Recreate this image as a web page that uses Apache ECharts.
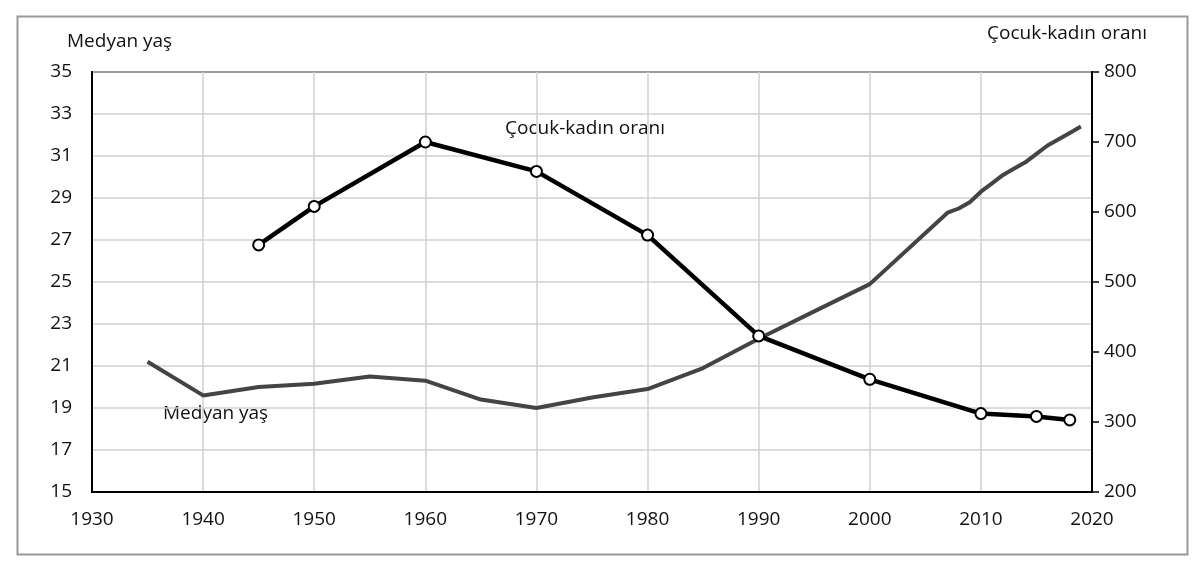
<!DOCTYPE html>
<html><head><meta charset="utf-8">
<script src="https://cdn.jsdelivr.net/npm/echarts@6/dist/echarts.min.js"></script>
<style>html,body{margin:0;padding:0;background:#fff}#c{width:1200px;height:570px}</style>
</head><body><div id="c"></div>
<script>
const xTicks = [1930, 2020, 10];
const leftTicks = [15, 35, 2];
const rightTicks = [200, 800, 100];
const cwYears = [1945, 1950, 1960, 1970, 1980, 1990, 2000, 2010, 2015, 2018];
const cwValues = [553, 608, 700, 658, 567, 423, 361, 312, 308, 303];
const medYears = [1935, 1940, 1945, 1950, 1955, 1960, 1965, 1970, 1975, 1980, 1985, 1990, 1995, 2000, 2007, 2008, 2009, 2010, 2011, 2012, 2013, 2014, 2015, 2016, 2017, 2018, 2019];
const medValues = [21.2, 19.6, 20.0, 20.15, 20.5, 20.3, 19.4, 19.0, 19.5, 19.9, 20.9, 22.3, 23.6, 24.9, 28.3, 28.5, 28.8, 29.3, 29.7, 30.1, 30.4, 30.7, 31.1, 31.5, 31.8, 32.1, 32.4];

const font = '"Open Sans", sans-serif';
const fs = 19;
const chart = echarts.init(document.getElementById('c'), null, {renderer: 'canvas'});
chart.setOption({
  backgroundColor: '#fff',
  animation: false,
  grid: {left: 92, right: 108, top: 72, bottom: 78, show: true, borderColor: '#000', borderWidth: 2},
  xAxis: {
    type: 'value', min: xTicks[0], max: xTicks[1], interval: xTicks[2],
    axisLine: {show: true, lineStyle: {color: '#000', width: 2}},
    axisTick: {show: false},
    axisLabel: {color: '#111', fontSize: fs, fontFamily: font, margin: 18, formatter: v => String(v)},
    splitLine: {show: true, lineStyle: {color: '#d0d0d0', width: 1.5}}
  },
  yAxis: [{
    type: 'value', min: leftTicks[0], max: leftTicks[1], interval: leftTicks[2],
    axisLine: {show: true, lineStyle: {color: '#000', width: 2}},
    axisTick: {show: false},
    axisLabel: {color: '#111', fontSize: fs, fontFamily: font, margin: 20},
    splitLine: {show: true, lineStyle: {color: '#d0d0d0', width: 1.5}}
  }, {
    type: 'value', min: rightTicks[0], max: rightTicks[1], interval: rightTicks[2],
    position: 'right',
    axisLine: {show: true, lineStyle: {color: '#000', width: 2}},
    axisTick: {show: true, inside: false, length: 7, lineStyle: {color: '#000', width: 1.5}},
    axisLabel: {color: '#111', fontSize: fs, fontFamily: font, margin: 12},
    splitLine: {show: false}
  }],
  series: [{
    name: 'Medyan yaş', type: 'line', yAxisIndex: 0,
    data: medYears.map((y, i) => [y, medValues[i]]),
    showSymbol: false, symbol: 'none',
    lineStyle: {color: '#444', width: 4},
    z: 2
  }, {
    name: 'Çocuk-kadın oranı', type: 'line', yAxisIndex: 1,
    data: cwYears.map((y, i) => [y, cwValues[i]]),
    symbol: 'circle', symbolSize: 11, showSymbol: true,
    itemStyle: {color: '#fff', borderColor: '#000', borderWidth: 2},
    lineStyle: {color: '#000', width: 4.5},
    z: 3
  }],
  graphic: [
    {type: 'rect', left: 15, top: 14, shape: {width: 1170, height: 538}, style: {fill: 'none', stroke: '#999', lineWidth: 2}, silent: true, z: -10},
    {type: 'text', left: 67, top: 32, style: {text: 'Medyan yaş', fill: '#111', font: fs + 'px "Open Sans", sans-serif'}},
    {type: 'text', left: 987, top: 24, style: {text: 'Çocuk-kadın oranı', fill: '#111', font: fs + 'px "Open Sans", sans-serif'}},
    {type: 'text', left: 505, top: 119, style: {text: 'Çocuk-kadın oranı', fill: '#111', font: fs + 'px "Open Sans", sans-serif'}},
    {type: 'text', left: 163, top: 404, style: {text: 'Medyan yaş', fill: '#111', font: fs + 'px "Open Sans", sans-serif'}}
  ]
});
</script></body></html>
